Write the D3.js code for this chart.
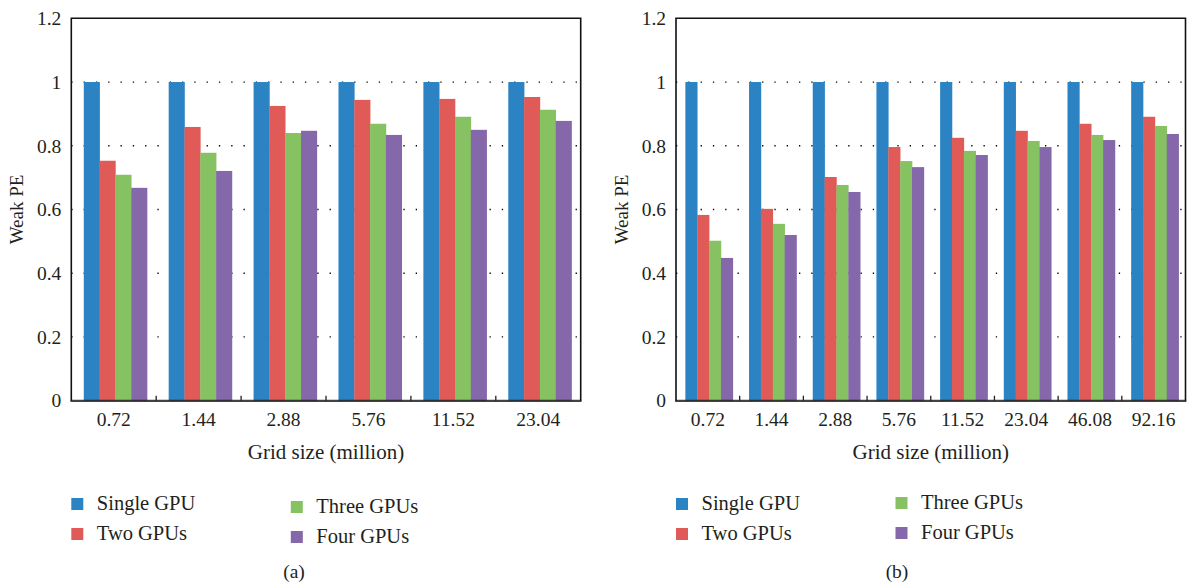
<!DOCTYPE html>
<html>
<head>
<meta charset="utf-8">
<script src="https://cdn.jsdelivr.net/npm/d3@7"></script>
<style>
  html, body { margin: 0; padding: 0; background: #fff; }
  svg { display: block; }
  text { font-family: "Liberation Serif", "Times New Roman", serif; fill: #231f20; }
</style>
</head>
<body>
<svg id="chart" width="1187" height="587"></svg>
<script>
// ---- data ----
const categoriesA = ["0.72", "1.44", "2.88", "5.76", "11.52", "23.04"];
const categoriesB = ["0.72", "1.44", "2.88", "5.76", "11.52", "23.04", "46.08", "92.16"];
const seriesNames = ["Single GPU", "Two GPUs", "Three GPUs", "Four GPUs"];
const seriesColors = ["#2b83c3", "#e05a57", "#86c262", "#8568aa"];

const singleA = [1, 1, 1, 1, 1, 1];
const twoA    = [0.753, 0.859, 0.925, 0.944, 0.947, 0.953];
const threeA  = [0.709, 0.778, 0.840, 0.869, 0.891, 0.913];
const fourA   = [0.668, 0.721, 0.847, 0.834, 0.850, 0.878];

const singleB = [1, 1, 1, 1, 1, 1, 1, 1];
const twoB    = [0.583, 0.602, 0.702, 0.796, 0.825, 0.847, 0.869, 0.891];
const threeB  = [0.502, 0.555, 0.677, 0.752, 0.784, 0.815, 0.834, 0.862];
const fourB   = [0.448, 0.520, 0.655, 0.733, 0.771, 0.796, 0.818, 0.837];

const yTicks = [0, 0.2, 0.4, 0.6, 0.8, 1.0, 1.2];
const yTickLabels = ["0", "0.2", "0.4", "0.6", "0.8", "1", "1.2"];
const gridTicks = [0.2, 0.4, 0.6, 0.8, 1.0];

const svg = d3.select("#chart");

function drawPanel(opt) {
  const { left, right, top, bottom, cats, series, label, legendCol2Dy, titleX, captionX } = opt;
  const g = svg.append("g");

  const x0 = d3.scaleBand().domain(cats).range([left, right]).padding(0);
  const bw = x0.bandwidth();
  const x1 = d3.scaleBand().domain(seriesNames).range([bw * 0.147, bw * 0.892]).padding(0);
  const y = d3.scaleLinear().domain([0, 1.2]).range([bottom, top]);

  // dotted gridlines (behind bars)
  g.append("g").selectAll("line").data(gridTicks).join("line")
    .attr("x1", left).attr("x2", right)
    .attr("y1", d => y(d)).attr("y2", d => y(d))
    .attr("stroke", "#000").attr("stroke-width", 1.3)
    .attr("stroke-dasharray", "1.3,11");

  // bars
  const rows = cats.map((c, i) => ({ cat: c, vals: series.map((s, k) => ({ name: seriesNames[k], v: s[i], k })) }));
  const grp = g.append("g").selectAll("g").data(rows).join("g")
    .attr("transform", d => `translate(${x0(d.cat)},0)`);
  grp.selectAll("rect").data(d => d.vals).join("rect")
    .attr("x", d => x1(d.name))
    .attr("width", x1.bandwidth() + 0.3)
    .attr("y", d => y(d.v))
    .attr("height", d => y(0) - y(d.v))
    .attr("fill", d => seriesColors[d.k]);

  // frame: top, left, right
  g.append("path")
    .attr("d", `M${left},${bottom} L${left},${top} L${right},${top} L${right},${bottom}`)
    .attr("fill", "none").attr("stroke", "#111").attr("stroke-width", 1.6);
  // bottom axis line
  g.append("line").attr("x1", left - 0.8).attr("x2", right + 0.8)
    .attr("y1", bottom + 0.2).attr("y2", bottom + 0.2)
    .attr("stroke", "rgba(20,20,20,0.8)").attr("stroke-width", 2.4);

  // tick marks at group boundaries
  const bounds = cats.slice(1);
  g.append("g").selectAll("line").data(bounds).join("line")
    .attr("x1", d => x0(d)).attr("x2", d => x0(d))
    .attr("y1", bottom).attr("y2", bottom - 5)
    .attr("stroke", "#222").attr("stroke-width", 1.3);

  // y axis labels
  const yAxis = d3.axisLeft(y).tickValues(yTicks).tickSize(0).tickPadding(10)
    .tickFormat((d, i) => yTickLabels[i]);
  const ya = g.append("g").attr("transform", `translate(${left},0)`).call(yAxis);
  ya.select(".domain").remove();
  ya.selectAll("text").style("font-size", "19.5px").attr("fill", "#231f20")
    .style("font-family", '"Liberation Serif", serif');

  // x axis labels
  const xAxis = d3.axisBottom(x0).tickSize(0).tickPadding(0);
  const xa = g.append("g").attr("transform", `translate(0,${bottom})`).call(xAxis);
  xa.select(".domain").remove();
  xa.selectAll("text").attr("dy", null).attr("y", 25)
    .style("font-size", "19.5px").attr("fill", "#231f20")
    .style("font-family", '"Liberation Serif", serif');

  // axis titles
  g.append("text").attr("x", (left + right) / 2).attr("y", 459)
    .attr("text-anchor", "middle").style("font-size", "21px").text("Grid size (million)");
  g.append("text").attr("transform", `translate(${titleX},${(top + bottom) / 2}) rotate(-90)`)
    .attr("text-anchor", "middle").style("font-size", "19px").text("Weak PE");

  // legend
  const legPos = [
    { x: left, y: 498 },
    { x: left, y: 528 },
    { x: left + 219.5, y: 498 + legendCol2Dy },
    { x: left + 219.5, y: 528 + legendCol2Dy }
  ];
  const leg = g.append("g").selectAll("g").data(seriesNames).join("g")
    .attr("transform", (d, i) => `translate(${legPos[i].x},${legPos[i].y})`);
  leg.append("rect").attr("width", 12).attr("height", 12).attr("fill", (d, i) => seriesColors[i]);
  leg.append("text").attr("x", 25.5).attr("y", 11.5).style("font-size", "20.5px").text(d => d);

  // caption
  g.append("text").attr("x", captionX).attr("y", 578).attr("text-anchor", "middle")
    .style("font-size", "19.5px").text(label);
}

drawPanel({ left: 71.3, right: 580.7, top: 18.3, bottom: 400.7, cats: categoriesA,
  series: [singleA, twoA, threeA, fourA], label: "(a)", legendCol2Dy: 3, titleX: 23, captionX: 294 });
drawPanel({ left: 676, right: 1185.5, top: 18.3, bottom: 400.7, cats: categoriesB,
  series: [singleB, twoB, threeB, fourB], label: "(b)", legendCol2Dy: -1, titleX: 628, captionX: 897 });
</script>
</body>
</html>
